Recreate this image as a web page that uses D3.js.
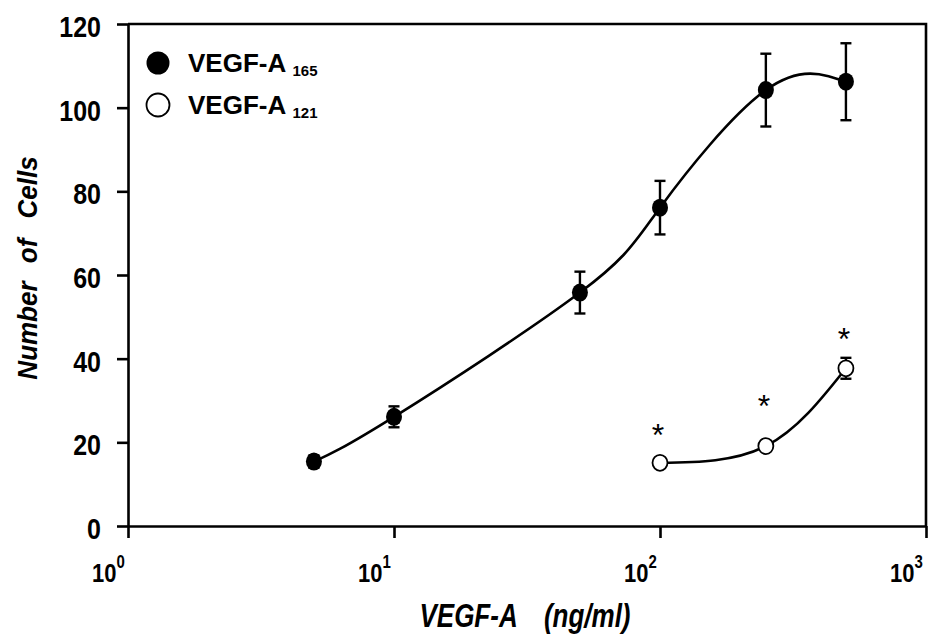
<!DOCTYPE html>
<html>
  <head>
    <meta charset="utf-8">
    <title>VEGF-A dose response</title>
    <style>
      body {
          margin: 0;
          background: #fff;
      }
      svg {
          font-family: "Liberation Sans", Arial, sans-serif;
          font-weight: bold;
      }
      .axis path, .axis line, .frame {
          stroke: #000;
          stroke-width: 2.6;
          fill: none;
      }
      .curve {
          fill: none;
          stroke: #000;
          stroke-width: 2.6;
      }
      .errbar {
          stroke: #000;
          stroke-width: 2.4;
      }
    </style>
  </head>
  <body>
    <svg id="chart" width="946" height="642"></svg>
    <script src="https://cdn.jsdelivr.net/npm/d3@7"></script>
    <script type="text/javascript">
// values
var concClosed = [5, 10, 50, 100, 250, 500];      // ng/ml, VEGF-A 165
var cellsClosed = [15.4, 26.1, 55.8, 76.1, 104.2, 106.2];
var errClosed = [1.5, 2.5, 5.0, 6.4, 8.7, 9.2];

var concOpen = [100, 250, 500];                   // ng/ml, VEGF-A 121
var cellsOpen = [15.1, 19.1, 37.7];
var errOpen = [0.8, 0.8, 2.5];

// asterisks above the 121 points (value units)
var starConc = [100, 250, 500];
var starCells = [23.4, 30.4, 46.4];

var yTicks = [0, 20, 40, 60, 80, 100, 120];
var xTicks = [1, 10, 100, 1000];
var xExponents = ["0", "1", "2", "3"];

var legendNames = ["VEGF-A", "VEGF-A"];
var legendSubs = ["165", "121"];

var svg = d3.select("#chart");

var x = d3.scaleLog().domain([1, 1000]).range([128, 926]);
var y = d3.scaleLinear().domain([0, 120]).range([526, 24]);

// plain numbers on the y axis, slightly tall type
var yAxis = svg.append("g")
    .attr("class", "axis")
    .attr("transform", "translate(" + x.range()[0] + ",0)")
    .call(d3.axisLeft(y).tickValues(yTicks).tickSize(11).tickSizeOuter(0));
yAxis.selectAll("text").remove();
yAxis.selectAll(".tick").append("text")
    .attr("text-anchor", "end")
    .attr("font-size", 25)
    .attr("fill", "#000")
    .attr("transform", "translate(-27,12.5) scale(1,1.17)")
    .text(d => d);

var xAxis = svg.append("g")
    .attr("class", "axis")
    .attr("transform", "translate(0," + y.range()[0] + ")")
    .call(d3.axisBottom(x).tickValues(xTicks).tickSize(12).tickSizeOuter(0));
xAxis.selectAll("text").remove();
xAxis.selectAll(".tick").each(function(d, i) {
  var t = d3.select(this).append("text")
      .attr("fill", "#000")
      .attr("transform", "translate(-20,56) scale(1,1.2)");
  t.append("tspan").attr("font-size", 22).text("10");
  t.append("tspan").attr("font-size", 15).attr("dy", -12).text(xExponents[i]);
});

// top and right of the frame
svg.append("path")
    .attr("class", "frame")
    .attr("d", "M" + x.range()[0] + "," + y.range()[1] +
               "H" + x.range()[1] + "V" + y.range()[0]);

// axis titles
var yTitle = svg.append("text")
    .attr("transform", "translate(37,268) rotate(-90) scale(1,1.08)")
    .attr("text-anchor", "middle")
    .attr("font-size", 26)
    .attr("font-style", "italic");
yTitle.append("tspan").text("Number");
yTitle.append("tspan").attr("dx", 11).text(" of");
yTitle.append("tspan").attr("dx", 13).text(" Cells");

var xTitle = svg.append("text")
    .attr("transform", "translate(525,627) scale(1,1.25)")
    .attr("text-anchor", "middle")
    .attr("font-size", 26)
    .attr("font-style", "italic");
xTitle.append("tspan").text("VEGF-A");
xTitle.append("tspan").attr("dx", 19).text(" (ng/ml)");

// spline through the means, in screen space of the log axis
var line = d3.line()
    .x(d => x(d[0]))
    .y(d => y(d[1]))
    .curve(d3.curveNatural);

var s165 = d3.zip(concClosed, cellsClosed, errClosed);
var s121 = d3.zip(concOpen, cellsOpen, errOpen);

svg.append("path").attr("class", "curve").attr("d", line(s165));
svg.append("path").attr("class", "curve").attr("d", line(s121));

function errorBars(data) {
  var g = svg.append("g").selectAll("g")
      .data(data)
      .enter().append("g")
        .attr("class", "errbar");
  g.append("line")
      .attr("x1", d => x(d[0])).attr("x2", d => x(d[0]))
      .attr("y1", d => y(d[1] - d[2])).attr("y2", d => y(d[1] + d[2]));
  [-1, 1].forEach(s => {
    g.append("line")
        .attr("x1", d => x(d[0]) - 5.5).attr("x2", d => x(d[0]) + 5.5)
        .attr("y1", d => y(d[1] + s * d[2])).attr("y2", d => y(d[1] + s * d[2]));
  });
}
errorBars(s165);
errorBars(s121);

svg.append("g").selectAll("ellipse")
    .data(s165)
    .enter().append("ellipse")
      .attr("cx", d => x(d[0]))
      .attr("cy", d => y(d[1]))
      .attr("rx", 8).attr("ry", 9)
      .attr("fill", "#000");

svg.append("g").selectAll("ellipse")
    .data(s121)
    .enter().append("ellipse")
      .attr("cx", d => x(d[0]))
      .attr("cy", d => y(d[1]))
      .attr("rx", 7.5).attr("ry", 8)
      .attr("fill", "#fff")
      .attr("stroke", "#000")
      .attr("stroke-width", 1.8);

// significance marks
svg.append("g").selectAll("text")
    .data(d3.zip(starConc, starCells))
    .enter().append("text")
      .attr("x", d => x(d[0]) - 2)
      .attr("y", d => y(d[1]) + 18)
      .attr("text-anchor", "middle")
      .attr("font-size", 32)
      .attr("font-weight", "normal")
      .text("*");

// legend
var legend = svg.append("g").selectAll("g")
    .data(legendNames)
    .enter().append("g")
      .attr("transform", (d, i) => "translate(158," + (63 + i * 42) + ")");
legend.append("circle")
    .attr("r", d => 11.5)
    .attr("fill", (d, i) => i ? "#fff" : "#000")
    .attr("stroke", "#000")
    .attr("stroke-width", (d, i) => i ? 1.8 : 0);
var lt = legend.append("text")
    .attr("x", 30)
    .attr("y", 9)
    .attr("font-size", 26);
lt.append("tspan").text(d => d + " ");
lt.append("tspan")
    .attr("font-size", 15)
    .attr("dy", 4)
    .text((d, i) => legendSubs[i]);
    </script>
  </body>
</html>
